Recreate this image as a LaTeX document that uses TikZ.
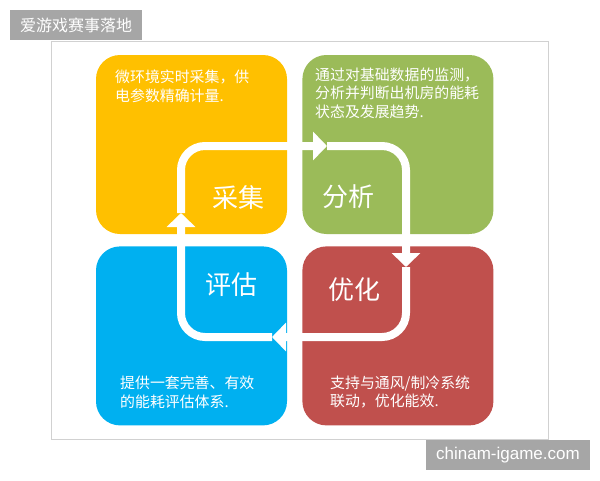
\documentclass[tikz,border=0pt]{standalone}
\usepackage{fontspec}
\setsansfont{Liberation Sans}
\newfontfamily\cjk{Noto Sans CJK SC}
\usepackage{tikz}
\usetikzlibrary{positioning, arrows.meta}
\definecolor{cjyellow}{HTML}{FFC000}
\definecolor{fxgreen}{HTML}{9BBB59}
\definecolor{pgblue}{HTML}{00B0F0}
\definecolor{yhred}{HTML}{C0504D}
\definecolor{badgegray}{HTML}{A6A6A6}
\tikzstyle{card}=[rounded corners=24pt, minimum width=191pt, minimum height=179pt, inner sep=0pt]
\tikzstyle{stage}=[font=\cjk\fontsize{26}{26}\selectfont, text=white]
\tikzstyle{blurb}=[font=\cjk\fontsize{14.9}{18.2}\selectfont, text=white, align=left, inner sep=0pt, anchor=north west]
\tikzstyle{flow}=[draw=white, line width=8pt, rounded corners=24pt, -{Triangle[width=28pt,length=14pt]}]
\tikzstyle{badge}=[fill=badgegray, text=white, minimum height=30pt, inner sep=0pt]

\begin{document}
\begin{tikzpicture}[x=1pt, y=-1pt]
	\useasboundingbox (0,0) rectangle (600,480);
	\draw[black!18, line width=1pt] (51,41) rectangle (548,439);
	\node[badge, minimum width=132pt, font=\cjk\fontsize{16}{16}\selectfont] (title) at (76,25) {爱游戏赛事落地};
	\node[badge, minimum width=164pt, font=\sffamily\fontsize{17}{17}\selectfont] (site) at (508,455) {chinam-igame.com};
	% four quadrants
	\node[card, fill=cjyellow] (caiji) at (191.5,144.5) {};
	\node[card, fill=fxgreen, right=15pt of caiji] (fenxi) {};
	\node[card, fill=pgblue, below=12pt of caiji] (pinggu) {};
	\node[card, fill=yhred, right=15pt of pinggu] (youhua) {};
	% cycle
	\coordinate (pL) at (181,213);
	\coordinate (pT) at (327,146);
	\coordinate (pR) at (406,267);
	\coordinate (pB) at (272,337);
	\draw[flow] (pL) |- (pT);
	\draw[flow] (pT) -| (pR);
	\draw[flow] (pR) |- (pB);
	\draw[flow] (pB) -| (pL);
	\node[stage] (caijilabel) at (238,198) {采集};
	\node[stage] (fenxilabel) at (348,197) {分析};
	\node[stage] (pinggulabel) at (231,285) {评估};
	\node[stage] (youhualabel) at (354,290) {优化};
	\node[blurb] (caijitext) at (115,70) {微环境实时采集，供\\电参数精确计量.};
	\node[blurb] (fenxitext) at (315,68) {通过对基础数据的监测，\\分析并判断出机房的能耗\\状态及发展趋势.};
	\node[blurb] (pinggutext) at (120,376) {提供一套完善、有效\\的能耗评估体系.};
	\node[blurb] (youhuatext) at (330,376) {支持与通风/制冷系统\\联动，优化能效.};
\end{tikzpicture}
\end{document}
